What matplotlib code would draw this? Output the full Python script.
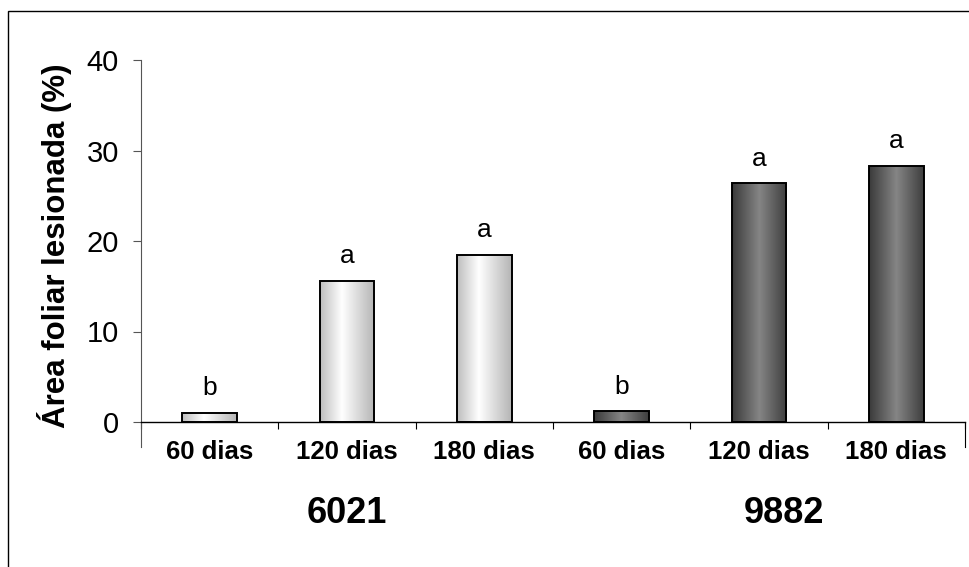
import matplotlib.pyplot as plt
import numpy as np
from matplotlib.colors import LinearSegmentedColormap
from matplotlib.patches import Rectangle
import matplotlib.transforms as mtransforms

plt.rcParams['font.family'] = ['Liberation Sans', 'DejaVu Sans']

# data
periods = ["60 dias", "120 dias", "180 dias", "60 dias", "120 dias", "180 dias"]
values = [1.0, 15.6, 18.5, 1.2, 26.4, 28.3]
letters = ["b", "a", "a", "b", "a", "a"]
clone = ["6021", "6021", "6021", "9882", "9882", "9882"]
groups = ["6021", "9882"]
group_nudge = [0.0, 0.18]

light = LinearSegmentedColormap.from_list("light", [(0, "#bdbdbd"), (0.4, "#ffffff"), (1, "#b4b4b4")])
dark = LinearSegmentedColormap.from_list("dark", [(0, "#3a3a3a"), (0.5, "#858585"), (1, "#3e3e3e")])
cmaps = {"6021": light, "9882": dark}

fig = plt.figure(figsize=(9.7, 5.67), dpi=100)
ax = fig.add_axes([141 / 970, 145 / 567, 824 / 970, 362 / 567])

x = np.arange(len(values))
width = 0.4
grad = np.linspace(0, 1, 256).reshape(1, -1)
for xi, v, c in zip(x, values, clone):
    bar = ax.bar(xi, v, width=width, facecolor="none", edgecolor="black", linewidth=1.4, zorder=3)[0]
    im = ax.imshow(grad, cmap=cmaps[c], aspect="auto", zorder=2,
                   extent=(xi - width / 2, xi + width / 2, 0, v))
    im.set_clip_path(bar)

for xi, v, lt in zip(x, values, letters):
    ax.annotate(lt, (xi, v), xytext=(0, 9), textcoords="offset points",
                ha="center", va="bottom", fontsize=19)

ax.set_xlim(-0.5, len(values) - 0.5)
ax.set_ylim(0, 40)
ax.set_yticks([0, 10, 20, 30, 40])
ax.tick_params(axis="y", labelsize=21, length=6, width=0.8, color="#555555", pad=10)
ax.set_xticks(x)
ax.set_xticklabels(periods, fontsize=18.5, fontweight="bold")
ax.tick_params(axis="x", length=0, pad=13)
ax.set_xticks(np.arange(-0.5, len(values), 1), minor=True)
ax.tick_params(axis="x", which="minor", length=5, width=0.8, color="black")

for s in ["top", "right"]:
    ax.spines[s].set_visible(False)
ax.spines["left"].set_color("#555555")
ax.spines["left"].set_linewidth(0.8)
ax.spines["bottom"].set_linewidth(1.0)

# longer boundary lines at both ends of the category axis
trans = mtransforms.blended_transform_factory(ax.transData, ax.transAxes)
for xb in [-0.5, len(values) - 0.5]:
    ax.plot([xb, xb], [0, -0.069], transform=trans, color="#555555" if xb < 0 else "black",
            lw=0.8, clip_on=False)

for g, nudge in zip(groups, group_nudge):
    centre = np.mean([xi for xi, c in zip(x, clone) if c == g])
    ax.text(centre + nudge, -0.254, g, transform=trans, ha="center", va="center",
            fontsize=26, fontweight="bold")

ax.set_ylabel("Área foliar lesionada (%)", fontsize=22.5, fontweight="bold")
ax.yaxis.set_label_coords(-0.0837, 0.4876)

# outer frame of the chart area
fig.patches.append(Rectangle((8 / 970, -0.1), 1.1, 1 - 11 / 567 + 0.1, transform=fig.transFigure,
                             fill=False, edgecolor="black", linewidth=1.0, zorder=0))

fig.savefig("out.png", dpi=100)
